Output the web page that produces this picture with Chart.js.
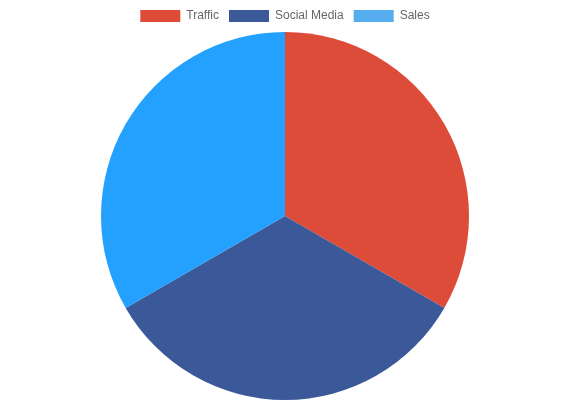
<!DOCTYPE html>
<html>
<head>
<meta charset="utf-8">
<script src="https://cdn.jsdelivr.net/npm/chart.js@4/dist/chart.umd.min.js"></script>
<style>
  body { margin: 0; }
  #wrap { width: 570px; height: 400px; }
</style>
</head>
<body>
<div id="wrap"><canvas id="chartCanvas"></canvas></div>
<script>
const labels = ["Traffic", "Social Media", "Sales"];
const values = [33.3, 33.3, 33.3];
const colors = ["#dd4b39", "#3b5998", "#55acee"];

const chart = new Chart(document.getElementById("chartCanvas"), {
  type: "pie",
  data: {
    labels: labels,
    datasets: [{ data: values, backgroundColor: colors, borderWidth: 0 }]
  },
  options: {
    responsive: true,
    maintainAspectRatio: false,
    animation: false,
    plugins: {
      legend: { display: true, labels: { color: "#666", font: { family: "Arial", size: 12 } } },
      tooltip: { enabled: false }
    }
  }
});

// the Sales slice is in its hover state in the picture
chart.setActiveElements([{ datasetIndex: 0, index: 2 }]);
chart.update();
</script>
</body>
</html>
